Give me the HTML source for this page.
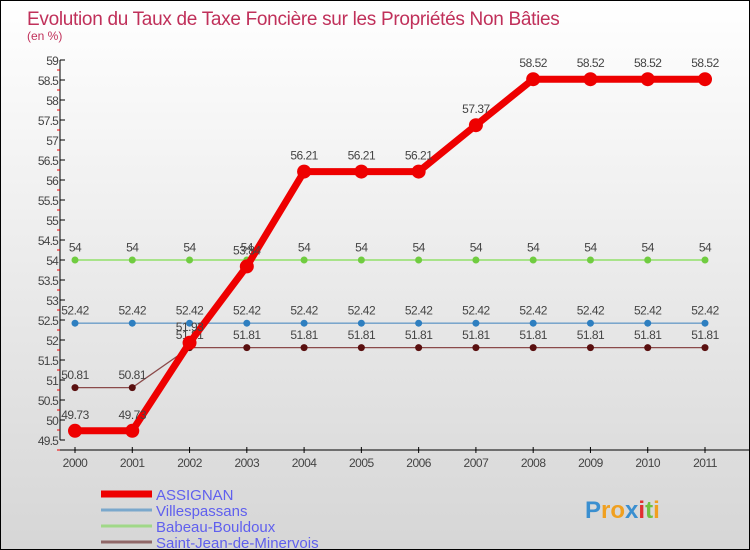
<!DOCTYPE html>
<html><head><meta charset="utf-8"><style>
html,body{margin:0;padding:0}
body{width:750px;height:550px;overflow:hidden;font-family:"Liberation Sans",sans-serif}
#wrap{position:relative;width:748px;height:548px;border:1px solid #000;background:linear-gradient(#ffffff,#d6d6d6)}
</style></head><body>
<div id="wrap">
<svg id="chart" width="748" height="548" style="position:absolute;left:0;top:0"></svg>
</div>
<script>
const years=["2000","2001","2002","2003","2004","2005","2006","2007","2008","2009","2010","2011"];
const assignan=[49.73,49.73,51.93,53.84,56.21,56.21,56.21,57.37,58.52,58.52,58.52,58.52];
const villespassans=[52.42,52.42,52.42,52.42,52.42,52.42,52.42,52.42,52.42,52.42,52.42,52.42];
const babeau=[54,54,54,54,54,54,54,54,54,54,54,54];
const saintjean=[50.81,50.81,51.81,51.81,51.81,51.81,51.81,51.81,51.81,51.81,51.81,51.81];
const yTicks=["49.5","50","50.5","51","51.5","52","52.5","53","53.5","54","54.5","55","55.5","56","56.5","57","57.5","58","58.5","59"];
const NS="http://www.w3.org/2000/svg";
const svg=document.getElementById('chart');
const X=i=>74+i*(630/11);
const Y=v=>59+(59-v)*40;
function mk(t,a,p){const e=document.createElementNS(NS,t);for(const k in a)e.setAttribute(k,a[k]);(p||svg).appendChild(e);return e;}
function txt(x,y,s,a,p){const e=mk('text',Object.assign({x:x,y:y,'font-family':'Liberation Sans, sans-serif'},a),p);e.textContent=s;return e;}
let t=txt(26,24,"Evolution du Taux de Taxe Foncière sur les Propriétés Non Bâties",{'font-size':19,fill:'#c0305a','letter-spacing':'-0.3'});

t=txt(26,39,"(en %)",{'font-size':12,fill:'#c0305a'});

let ax=mk('line',{x1:59,y1:Y(59),x2:59,y2:Y(49.5),stroke:'#000'});

ax=mk('line',{x1:59,y1:449,x2:748,y2:449,stroke:'#000'});

yTicks.forEach(s=>{const v=parseFloat(s);const y=Y(v);
 mk('line',{x1:59,y1:y,x2:64,y2:y,stroke:'#000'});
 mk('line',{x1:56,y1:y+10,x2:59,y2:y+10,stroke:'#e00'});
 const l=txt(57,y+5,s,{'font-size':12,fill:'#444','text-anchor':'end','letter-spacing':'-0.8'});
 });
years.forEach((s,i)=>{const x=X(i);mk('line',{x1:x,y1:446,x2:x,y2:452,stroke:'#000'});
 const l=txt(x,466,s,{'font-size':12,fill:'#444','text-anchor':'middle','letter-spacing':'-0.5'});
 });
function series(vals,color,pt,lw,r,name){
 const g=mk('g',{});
 mk('polyline',{points:vals.map((v,i)=>X(i)+','+Y(v)).join(' '),fill:'none',stroke:color,'stroke-width':lw,'stroke-linejoin':'round'},g);
 vals.forEach((v,i)=>{const c=mk('circle',{cx:X(i),cy:Y(v),r:r,fill:pt},g);
  
  const l=txt(X(i),Y(v)-(r+5),String(v),{'font-size':12,fill:'#444','text-anchor':'middle','letter-spacing':'-0.5'},g);
  });
}
series(villespassans,'#6a9cc8','#2e7fc0',1.3,3.5,'villespassans');
series(babeau,'#80dd50','#70cc40',1.3,3.5,'babeau-bouldoux');
series(saintjean,'#8a4a4a','#5a1010',1.3,3.5,'saint-jean-de-minervois');
series(assignan,'#ee0000','#ee0000',7,7,'assignan');
const leg=[["ASSIGNAN","#ee0000",7],["Villespassans","#7aa8cc",3],["Babeau-Bouldoux","#a0d888",3],["Saint-Jean-de-Minervois","#906868",3]];
leg.forEach((e,i)=>{const y=493+i*16;const g=mk('g',{});
 mk('line',{x1:100,y1:y,x2:151,y2:y,stroke:e[1],'stroke-width':e[2]},g);
 txt(155,y+6,e[0],{'font-size':15,fill:'#6060ee'},g);});
const logo=mk('text',{x:584,y:517,'font-family':'Liberation Sans, sans-serif','font-size':24,'font-weight':'bold'});

[["P","#3a8fd0"],["r","#f0a020"],["o","#f0a020"],["x","#3a8fd0"],["i","#e03030"],["t","#70c040"],["i","#f0a020"]].forEach(c=>{const s=document.createElementNS(NS,'tspan');s.setAttribute('fill',c[1]);s.textContent=c[0];logo.appendChild(s);});
</script>
</body></html>
